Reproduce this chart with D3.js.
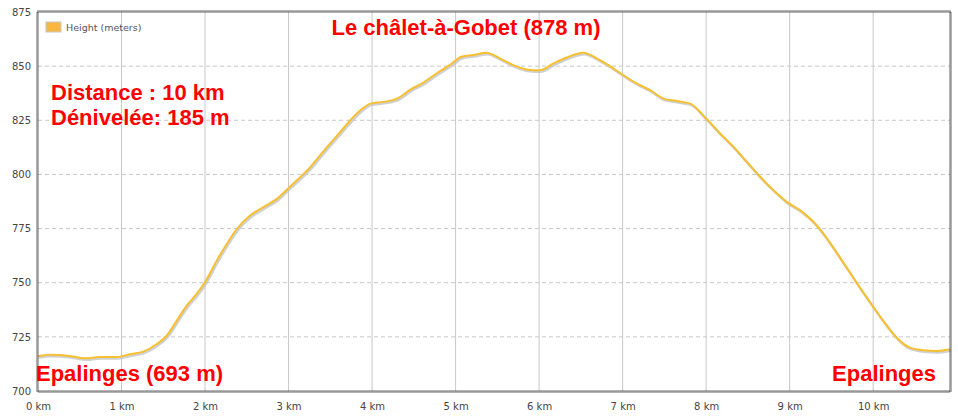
<!DOCTYPE html>
<html>
<head>
<meta charset="utf-8">
<script src="https://cdn.jsdelivr.net/npm/d3@7"></script>
<style>
  body { margin: 0; background: #fff; }
  .tick text { font-family: "DejaVu Sans", Verdana, sans-serif; font-size: 10px; fill: #444; }
  .note { font-family: "Liberation Sans", Arial, sans-serif; font-weight: bold; fill: #ff0000; font-size: 22px; }
</style>
</head>
<body>
<div id="chart"></div>
<script>
// elevation profile
var distKm = [0, 0.14, 0.38, 0.56, 0.74, 0.94, 1.10, 1.26, 1.42, 1.54, 1.66, 1.78, 1.90, 2.01, 2.14, 2.26,
  2.38, 2.54, 2.70, 2.86, 3.01, 3.26, 3.46, 3.62, 3.74, 3.86, 3.98, 4.14, 4.30, 4.46, 4.61, 4.77, 4.93,
  5.07, 5.21, 5.37, 5.53, 5.69, 5.85, 6.01, 6.17, 6.33, 6.53, 6.69, 6.85, 7.01, 7.17, 7.33, 7.49, 7.65,
  7.81, 8.00, 8.17, 8.33, 8.49, 8.65, 8.81, 8.97, 9.13, 9.29, 9.45, 9.52, 9.68, 9.84, 10.00, 10.12,
  10.28, 10.44, 10.60, 10.76, 10.92];
var heightM = [716, 716.7, 716.2, 715.1, 715.7, 715.7, 717, 718.2, 721.6, 725.5, 732.4, 739.4, 744.8, 750.9, 760.2, 767.9,
  774.8, 781, 784.9, 788.7, 794.1, 803.4, 812.6, 819.6, 825, 829.6, 832.7, 833.5, 835, 839.2, 842.3, 846.6, 850.5,
  854.3, 855.1, 856.2, 853.6, 850.5, 848.5, 848.1, 851.2, 854, 856.2, 853.6, 850, 845.8, 842, 838.9, 835, 833.9,
  832.7, 825.8, 818.8, 812.6, 805.7, 798.8, 792.6, 787.2, 783.3, 777.9, 770.2, 766.3, 757.1, 747.8, 738.9, 732.4,
  724.7, 720, 718.8, 718.5, 719.3];
var yTicks = [700, 725, 750, 775, 800, 825, 850, 875];
var xTicks = [0, 1, 2, 3, 4, 5, 6, 7, 8, 9, 10];
var seriesName = "Height (meters)";

var svgWidth = 958;
var svgHeight = 419;
var margin = { top: 12, right: 8, bottom: 28, left: 38 };
var width = svgWidth - margin.left - margin.right;
var height = svgHeight - margin.top - margin.bottom;

var data = distKm.map(function(d, i) { return { km: d, h: heightM[i] }; });

var svg = d3.select("#chart").append("svg")
  .attr("width", svgWidth)
  .attr("height", svgHeight);

var chartGroup = svg.append("g")
  .attr("transform", `translate(${margin.left}, ${margin.top})`);

var xScale = d3.scaleLinear().domain([0, 10.92]).range([0, width]);
var yScale = d3.scaleLinear().domain([700, 875]).range([height, 0]);

// grid: solid verticals, dashed horizontals
chartGroup.append("g").selectAll("line")
  .data(xTicks.slice(1))
  .enter().append("line")
  .attr("x1", d => xScale(d)).attr("x2", d => xScale(d))
  .attr("y1", 0).attr("y2", height)
  .attr("stroke", "#c8c8c8");

chartGroup.append("g").selectAll("line")
  .data(yTicks.slice(1, -1))
  .enter().append("line")
  .attr("x1", 0).attr("x2", width)
  .attr("y1", d => yScale(d)).attr("y2", d => yScale(d))
  .attr("stroke", "#c8c8c8")
  .attr("stroke-dasharray", "4,3");

var line = d3.line()
  .x(d => xScale(d.km))
  .y(d => yScale(d.h))
  .curve(d3.curveMonotoneX);

// shadow then line
chartGroup.append("path")
  .datum(data)
  .attr("d", line)
  .attr("transform", "translate(1, 1.5)")
  .attr("fill", "none")
  .attr("stroke", "#c4c4c4")
  .attr("stroke-width", 2.5)
  .attr("opacity", 0.8);

chartGroup.append("path")
  .datum(data)
  .attr("d", line)
  .attr("fill", "none")
  .attr("stroke", "#f7c030")
  .attr("stroke-width", 2);

// axes
var bottomAxis = d3.axisBottom(xScale).tickValues(xTicks).tickSize(0).tickPadding(12)
  .tickFormat(d => d + " km");
var leftAxis = d3.axisLeft(yScale).tickValues(yTicks).tickSize(0).tickPadding(7);

chartGroup.append("g")
  .attr("transform", `translate(0, ${height})`)
  .call(bottomAxis)
  .call(g => g.select(".domain").remove());
chartGroup.append("g")
  .call(leftAxis)
  .call(g => g.select(".domain").remove());

// plot frame
chartGroup.append("rect")
  .attr("x", -0.5).attr("y", -0.5)
  .attr("width", width + 1).attr("height", height + 1)
  .attr("fill", "none")
  .attr("stroke", "#333")
  .attr("stroke-width", 2.5)
  .attr("stroke-dasharray", "1,1");

// legend
var legend = chartGroup.append("g").attr("transform", "translate(8, 10)");
legend.append("rect")
  .attr("x", 0).attr("y", 0).attr("width", 15).attr("height", 10)
  .attr("fill", "#f7b740").attr("stroke", "#c8c8c8");
legend.append("text")
  .attr("x", 20).attr("y", 9)
  .attr("font-family", "DejaVu Sans, Verdana, sans-serif")
  .attr("font-size", 9.5)
  .attr("fill", "#555")
  .text(seriesName);

// annotations
svg.append("text").attr("class", "note")
  .attr("x", 466).attr("y", 35).attr("text-anchor", "middle")
  .text("Le châlet-à-Gobet (878 m)");
svg.append("text").attr("class", "note")
  .attr("x", 51).attr("y", 100)
  .text("Distance : 10 km");
svg.append("text").attr("class", "note")
  .attr("x", 51).attr("y", 125)
  .text("Dénivelée: 185 m");
svg.append("text").attr("class", "note")
  .attr("x", 36).attr("y", 381)
  .text("Epalinges (693 m)");
svg.append("text").attr("class", "note")
  .attr("x", 936).attr("y", 381).attr("text-anchor", "end")
  .text("Epalinges");
</script>
</body>
</html>
